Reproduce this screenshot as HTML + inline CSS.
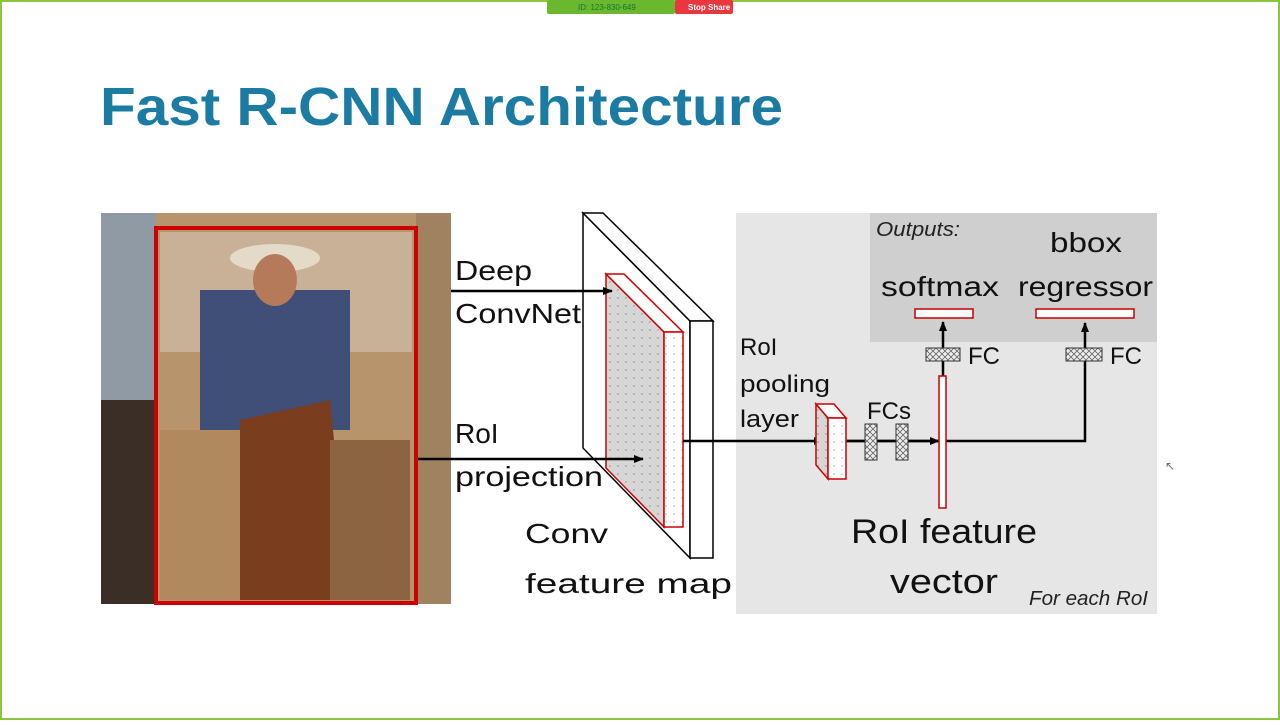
<!DOCTYPE html>
<html><head><meta charset="utf-8"><style>
html,body{margin:0;padding:0;background:#fff}
body{width:1280px;height:720px;overflow:hidden;position:relative;font-family:"Liberation Sans",sans-serif}
</style></head><body>
<svg width="1280" height="720" viewBox="0 0 1280 720" xmlns="http://www.w3.org/2000/svg" font-family="Liberation Sans, sans-serif">
<defs>
<pattern id="dots" width="8" height="8" patternUnits="userSpaceOnUse"><rect width="8" height="8" fill="#d6d6d6"/><circle cx="2" cy="2" r="0.7" fill="#888"/></pattern>
<pattern id="dotsw" width="8" height="8" patternUnits="userSpaceOnUse"><rect width="8" height="8" fill="#fff"/><circle cx="2" cy="2" r="0.7" fill="#aaa"/></pattern>
<pattern id="hatch" width="6" height="6" patternUnits="userSpaceOnUse"><rect width="6" height="6" fill="#eee"/><path d="M0 0L6 6M6 0L0 6" stroke="#666" stroke-width="0.8"/></pattern>
<marker id="ar" markerWidth="10" markerHeight="10" refX="9" refY="5" orient="auto" markerUnits="userSpaceOnUse"><path d="M0 1L10 5L0 9Z" fill="#000"/></marker>
</defs>
<rect x="1" y="1" width="1278" height="718" fill="#fff" stroke="#8cc63f" stroke-width="2"/>
<rect x="547" y="0" width="128" height="14" fill="#6ab82e" rx="2"/>
<text x="578" y="10" font-size="8" fill="#173">ID: 123-830-649</text>
<rect x="675" y="0" width="58" height="14" fill="#e8373e" rx="2"/>
<text x="688" y="10" font-size="8" fill="#fff" font-weight="bold">Stop Share</text>
<text x="100" y="125" font-size="54" font-weight="bold" fill="#1b7ba3" textLength="683" lengthAdjust="spacingAndGlyphs">Fast R-CNN Architecture</text>

<!-- photo -->
<rect x="101" y="213" width="350" height="391" fill="#b7946c"/>
<rect x="101" y="213" width="55" height="391" fill="#8f9aa4"/>
<rect x="101" y="400" width="55" height="204" fill="#3a2e26"/>
<rect x="416" y="213" width="35" height="391" fill="#a08260"/>
<rect x="160" y="232" width="252" height="120" fill="#c9b197"/>
<rect x="200" y="290" width="150" height="140" fill="#3f4f78"/>
<ellipse cx="275" cy="258" rx="45" ry="14" fill="#e4dac8"/>
<ellipse cx="275" cy="280" rx="22" ry="26" fill="#b57a5a"/>
<path d="M240 420 L330 400 L350 600 L230 600 Z" fill="#7a3d1e"/>
<rect x="160" y="430" width="80" height="170" fill="#b08a5e"/>
<rect x="330" y="440" width="80" height="160" fill="#8c6442"/>
<rect x="156" y="228" width="260" height="375" fill="none" stroke="#c00" stroke-width="4"/>

<!-- labels left -->
<g font-size="28" fill="#111">
<text x="455" y="280" textLength="77" lengthAdjust="spacingAndGlyphs">Deep</text>
<text x="455" y="323" textLength="126" lengthAdjust="spacingAndGlyphs">ConvNet</text>
<text x="455" y="443">RoI</text>
<text x="455" y="486" textLength="148" lengthAdjust="spacingAndGlyphs">projection</text>
<text x="525" y="543" textLength="83" lengthAdjust="spacingAndGlyphs">Conv</text>
<text x="525" y="593" textLength="207" lengthAdjust="spacingAndGlyphs">feature map</text>
</g>

<!-- conv slab -->
<polygon points="583,213 690,321 690,558 583,448" fill="#fff" stroke="#000" stroke-width="1.5"/>
<polygon points="583,213 603,213 713,321 690,321" fill="#fff" stroke="#000" stroke-width="1.5"/>
<rect x="690" y="321" width="23" height="237" fill="#fff" stroke="#000" stroke-width="1.5"/>
<polygon points="606,274 664,332 664,527 606,468" fill="url(#dots)" stroke="#c00" stroke-width="1.5"/>
<polygon points="606,274 624,274 683,332 664,332" fill="#fff" stroke="#c00" stroke-width="1.5"/>
<rect x="664" y="332" width="19" height="195" fill="url(#dotsw)" stroke="#c00" stroke-width="1.5"/>

<line x1="451" y1="291" x2="612" y2="291" stroke="#000" stroke-width="2.5" marker-end="url(#ar)"/>
<line x1="418" y1="459" x2="643" y2="459" stroke="#000" stroke-width="2.5" marker-end="url(#ar)"/>

<!-- grey panels -->
<rect x="736" y="213" width="421" height="401" fill="#e6e6e6"/>
<rect x="870" y="213" width="287" height="129" fill="#cfcfcf"/>
<text x="876" y="236" font-size="20" font-style="italic" fill="#222" textLength="84" lengthAdjust="spacingAndGlyphs">Outputs:</text>
<text x="1050" y="252" font-size="28" fill="#111" textLength="72" lengthAdjust="spacingAndGlyphs">bbox</text>
<text x="881" y="296" font-size="28" fill="#111" textLength="118" lengthAdjust="spacingAndGlyphs">softmax</text>
<text x="1018" y="296" font-size="28" fill="#111" textLength="135" lengthAdjust="spacingAndGlyphs">regressor</text>
<rect x="915" y="309" width="58" height="9" fill="#fff" stroke="#c00" stroke-width="1.5"/>
<rect x="1036" y="309" width="98" height="9" fill="#fff" stroke="#c00" stroke-width="1.5"/>

<g font-size="24" fill="#111">
<text x="740" y="355">RoI</text>
<text x="740" y="392" textLength="90" lengthAdjust="spacingAndGlyphs">pooling</text>
<text x="740" y="427" textLength="59" lengthAdjust="spacingAndGlyphs">layer</text>
<text x="867" y="419">FCs</text>
<text x="968" y="364">FC</text>
<text x="1110" y="364">FC</text>
</g>
<text x="851" y="543" font-size="34" fill="#111" textLength="186" lengthAdjust="spacingAndGlyphs">RoI feature</text>
<text x="890" y="593" font-size="34" fill="#111" textLength="108" lengthAdjust="spacingAndGlyphs">vector</text>
<text x="1029" y="605" font-size="20" font-style="italic" fill="#222" textLength="119" lengthAdjust="spacingAndGlyphs">For each RoI</text>

<!-- lines -->
<line x1="683" y1="441" x2="823" y2="441" stroke="#000" stroke-width="2.5" marker-end="url(#ar)"/>
<polyline points="846,441 1085,441 1085,323" fill="none" stroke="#000" stroke-width="2.5" marker-end="url(#ar)"/>
<line x1="846" y1="441" x2="939" y2="441" stroke="#000" stroke-width="2.5" marker-end="url(#ar)"/>
<line x1="943" y1="376" x2="943" y2="322" stroke="#000" stroke-width="2.5" marker-end="url(#ar)"/>

<!-- pooling box -->
<polygon points="816,404 828,418 828,479 816,465" fill="url(#dots)" stroke="#c00" stroke-width="1.5"/>
<polygon points="816,404 834,404 846,418 828,418" fill="#fff" stroke="#c00" stroke-width="1.5"/>
<rect x="828" y="418" width="18" height="61" fill="url(#dotsw)" stroke="#c00" stroke-width="1.5"/>

<rect x="865" y="424" width="12" height="36" fill="url(#hatch)" stroke="#333"/>
<rect x="896" y="424" width="12" height="36" fill="url(#hatch)" stroke="#333"/>
<rect x="926" y="348" width="34" height="13" fill="url(#hatch)" stroke="#333"/>
<rect x="1066" y="348" width="36" height="13" fill="url(#hatch)" stroke="#333"/>
<rect x="939" y="376" width="7" height="132" fill="url(#dotsw)" stroke="#c00" stroke-width="1.5"/>

<text x="1165" y="470" font-size="12" fill="#666">↖</text>
</svg>
</body></html>
